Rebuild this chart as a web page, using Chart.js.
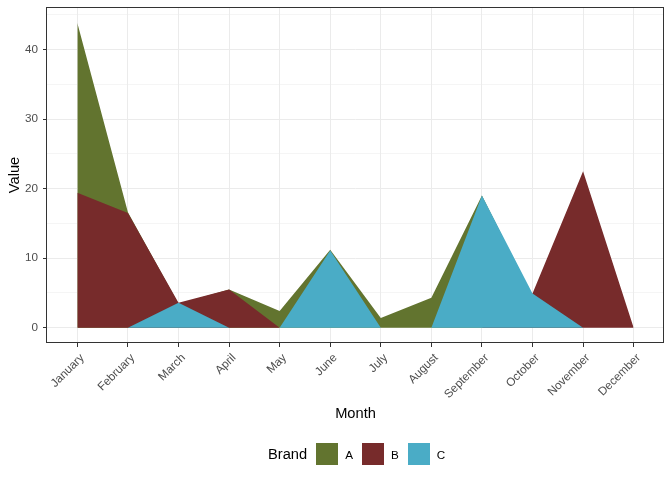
<!DOCTYPE html>
<html>
<head>
<meta charset="utf-8">
<script src="https://cdn.jsdelivr.net/npm/chart.js@4/dist/chart.umd.min.js"></script>
<style>
  html, body { margin: 0; padding: 0; background: #ffffff; }
  #wrap { position: relative; width: 672px; height: 480px; font-family: "Liberation Sans", Arial, sans-serif; }
  #chart { position: absolute; left: 0; top: 0; }
  #legend { position: absolute; left: 268px; top: 443px; height: 22px; display: flex; align-items: center; }
  #legend .title { font-size: 14.67px; color: #000; margin-right: 9px; }
  #legend .key { width: 22px; height: 22px; }
  #legend .lab { font-size: 11.7px; color: #000; margin-left: 7px; margin-right: 9px; }
</style>
</head>
<body>
<div id="wrap">
  <canvas id="chart" width="672" height="480"></canvas>
  <div id="legend"></div>
</div>
<script>
const months = ["January","February","March","April","May","June","July","August","September","October","November","December"];
const brands = ["A","B","C"];
const brandColors = ["#62742F","#772B2B","#4AACC6"];
const valuesA = [43.8, 16.6, 3.4, 5.5, 2.4, 11.2, 1.4, 4.3, 19.0, 4.5, 0, 0];
const valuesB = [19.4, 16.5, 3.6, 5.5, 0, 0, 0, 0, 0, 4.9, 22.5, 0];
const valuesC = [0, 0, 3.6, 0, 0, 11.1, 0, 0, 19.0, 4.9, 0, 0];
const yMajorTicks = [0, 10, 20, 30, 40];
const yMinorTicks = [5, 15, 25, 35, 45];

const seriesValues = [valuesA, valuesB, valuesC];

const datasets = brands.map((b, k) => ({
  label: b,
  data: seriesValues[k].map((v, i) => ({ x: i, y: v })),
  backgroundColor: brandColors[k],
  borderColor: 'rgba(0,0,0,0)',
  borderWidth: 0,
  pointRadius: 0,
  pointHoverRadius: 0,
  tension: 0,
  fill: 'origin',
  order: brands.length - k
}));

const panelBorder = {
  id: 'panelBorder',
  afterDatasetsDraw(chart) {
    const a = chart.chartArea;
    const ctx = chart.ctx;
    ctx.save();
    ctx.strokeStyle = '#333333';
    ctx.lineWidth = 1;
    ctx.strokeRect(Math.round(a.left) - 0.5, Math.round(a.top) + 0.5, Math.round(a.right - a.left), Math.round(a.bottom - a.top) - 1);
    ctx.restore();
  }
};

const tickFont = { family: '"Liberation Sans", Arial, sans-serif', size: 11.7 };
const titleFont = { family: '"Liberation Sans", Arial, sans-serif', size: 14.67 };

new Chart(document.getElementById('chart'), {
  type: 'line',
  data: { datasets },
  plugins: [panelBorder],
  options: {
    responsive: false,
    animation: false,
    devicePixelRatio: 1,
    layout: { padding: { top: 7, right: 8, left: 0, bottom: 0 } },
    plugins: { legend: { display: false }, tooltip: { enabled: false } },
    scales: {
      x: {
        type: 'linear',
        min: -0.6,
        max: 11.6,
        afterBuildTicks(scale) { scale.ticks = months.map((m, i) => ({ value: i })); },
        afterFit(scale) { scale.height = 137; scale.paddingLeft = 0; scale.paddingRight = 0; },
        ticks: {
          autoSkip: false,
          minRotation: 45,
          maxRotation: 45,
          padding: 4,
          labelOffset: 5,
          color: '#4D4D4D',
          font: tickFont,
          callback: (v) => months[v]
        },
        grid: { color: '#EBEBEB', lineWidth: 1, tickLength: 4, tickColor: '#333333' },
        border: { display: false },
        title: { display: true, text: 'Month', color: '#000000', font: titleFont, padding: { top: 0, bottom: 57.5 } }
      },
      y: {
        type: 'linear',
        min: -2.2,
        max: 46.1,
        afterBuildTicks(scale) {
          const all = yMajorTicks.concat(yMinorTicks).sort((a, b) => a - b);
          scale.ticks = all.map(v => ({ value: v }));
        },
        afterFit(scale) { scale.width = 47; scale.paddingTop = 0; scale.paddingBottom = 0; },
        ticks: {
          padding: 5,
          color: '#4D4D4D',
          font: tickFont,
          callback: (v) => yMajorTicks.includes(v) ? String(v) : ''
        },
        grid: {
          color: '#EBEBEB',
          lineWidth: (c) => (c.tick && yMajorTicks.includes(c.tick.value)) ? 1 : 0.5,
          tickLength: 4,
          tickColor: (c) => (c.tick && yMajorTicks.includes(c.tick.value)) ? '#333333' : 'rgba(0,0,0,0)'
        },
        border: { display: false },
        title: { display: true, text: 'Value', color: '#000000', font: titleFont, padding: { top: 5.8, bottom: 0 } }
      }
    }
  }
});

const legend = document.getElementById('legend');
const t = document.createElement('span');
t.className = 'title';
t.textContent = 'Brand';
legend.appendChild(t);
brands.forEach((b, k) => {
  const key = document.createElement('span');
  key.className = 'key';
  key.style.background = brandColors[k];
  legend.appendChild(key);
  const lab = document.createElement('span');
  lab.className = 'lab';
  lab.textContent = b;
  legend.appendChild(lab);
});
</script>
</body>
</html>
